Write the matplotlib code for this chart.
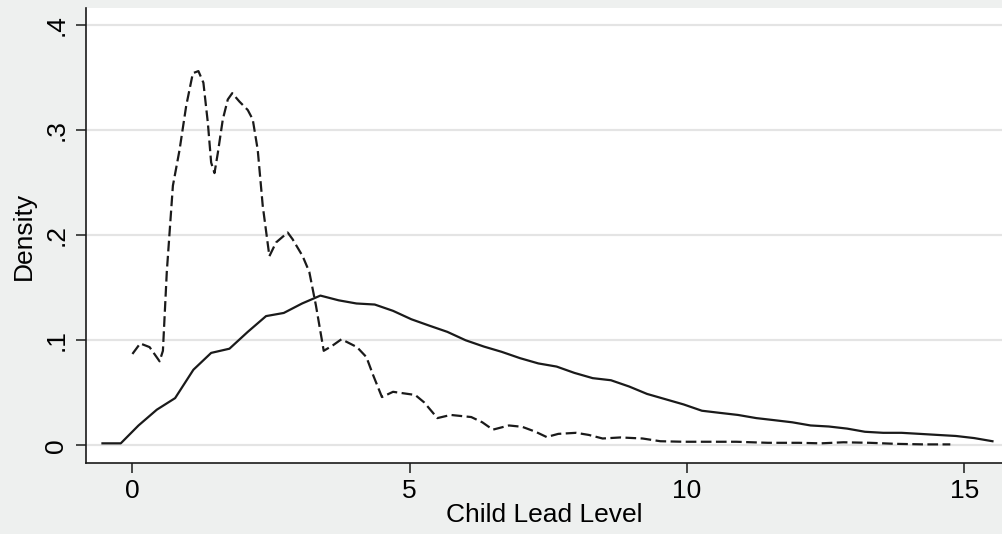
import matplotlib
matplotlib.use("Agg")
import matplotlib.pyplot as plt

# solid line (kernel density, evaluated on a grid)
solid_x = [-0.54, -0.21, 0.11, 0.44, 0.77, 1.10, 1.42, 1.75, 2.08, 2.41,
           2.73, 3.06, 3.39, 3.72, 4.04, 4.37, 4.70, 5.03, 5.35, 5.68,
           6.01, 6.34, 6.66, 6.99, 7.32, 7.65, 7.97, 8.30, 8.63, 8.96,
           9.28, 9.61, 9.94, 10.27, 10.59, 10.92, 11.25, 11.58, 11.90, 12.23,
           12.56, 12.89, 13.21, 13.54, 13.87, 14.20, 14.52, 14.85, 15.18, 15.51]
solid_y = [0.002, 0.002, 0.019, 0.034, 0.045, 0.072, 0.088, 0.092, 0.108, 0.123,
           0.126, 0.135, 0.1425, 0.138, 0.135, 0.134, 0.128, 0.120, 0.114, 0.108,
           0.100, 0.094, 0.089, 0.083, 0.078, 0.075, 0.069, 0.064, 0.062, 0.056,
           0.049, 0.044, 0.039, 0.033, 0.031, 0.029, 0.026, 0.024, 0.022, 0.019,
           0.018, 0.016, 0.013, 0.012, 0.012, 0.011, 0.010, 0.009, 0.007, 0.004]

# dashed line
dash_x = [0.00, 0.14, 0.31, 0.49, 0.55, 0.62, 0.73, 0.85, 0.97, 1.09,
          1.19, 1.28, 1.36, 1.42, 1.48, 1.54, 1.63, 1.72, 1.80, 1.93,
          2.08, 2.17, 2.26, 2.35, 2.47, 2.59, 2.80, 2.89, 3.07, 3.19,
          3.31, 3.45, 3.61, 3.77, 4.05, 4.22, 4.34, 4.50, 4.70, 5.10,
          5.26, 5.50, 5.74, 6.11, 6.31, 6.50, 6.79, 7.03, 7.27, 7.47,
          7.68, 8.00, 8.23, 8.48, 8.80, 9.20, 9.52, 9.93, 10.41, 10.89,
          11.46, 12.02, 12.42, 12.82, 13.30, 13.78, 14.27, 14.75]
dash_y = [0.087, 0.097, 0.0935, 0.080, 0.090, 0.165, 0.247, 0.281, 0.323, 0.354,
          0.356, 0.345, 0.307, 0.269, 0.259, 0.278, 0.310, 0.329, 0.335, 0.327,
          0.319, 0.310, 0.281, 0.228, 0.180, 0.193, 0.2025, 0.196, 0.180, 0.165,
          0.133, 0.090, 0.095, 0.101, 0.0935, 0.084, 0.067, 0.046, 0.051, 0.048,
          0.041, 0.026, 0.029, 0.027, 0.022, 0.015, 0.019, 0.0177, 0.013, 0.008,
          0.011, 0.012, 0.010, 0.0066, 0.0076, 0.0066, 0.004, 0.0035, 0.0035, 0.0035,
          0.0025, 0.0025, 0.002, 0.003, 0.0025, 0.0015, 0.001, 0.001]

x_ticks = [0, 5, 10, 15]
y_ticks = [0, 0.1, 0.2, 0.3, 0.4]
y_tick_labels = ["0", ".1", ".2", ".3", ".4"]

plt.rcParams['font.family'] = ['Liberation Sans', 'DejaVu Sans']

bg = "#eef0ef"
fig = plt.figure(figsize=(10.03, 5.34), dpi=100, facecolor=bg)
ax = fig.add_axes([86 / 1003, 71 / 534, 917 / 1003, 455 / 534])
ax.set_facecolor("white")

ax.plot(solid_x, solid_y, color="#1a1a1a", linewidth=1.6)
ax.plot(dash_x, dash_y, color="#1a1a1a", linewidth=1.6, dashes=(4.8, 2))

ax.set_xlim(-0.837, 15.70)
ax.set_ylim(-0.0167, 0.416)
ax.set_xticks(x_ticks)
ax.set_yticks(y_ticks)
ax.set_yticklabels(y_tick_labels, rotation=90, va="center")

ax.grid(axis="y", color="#e4e4e4", linewidth=1.6)
ax.set_axisbelow(True)
for s in ["top", "right"]:
    ax.spines[s].set_visible(False)
for s in ["left", "bottom"]:
    ax.spines[s].set_color("#1a1a1a")
    ax.spines[s].set_linewidth(1.2)

ax.tick_params(direction="out", length=7.2, width=1.1, color="#1a1a1a",
               labelsize=19)
ax.tick_params(axis="x", pad=4)
ax.tick_params(axis="y", pad=5.5)
ax.set_xlabel("Child Lead Level", fontsize=19, labelpad=0)
ax.set_ylabel("Density", fontsize=19, labelpad=6)

fig.savefig("out.png", dpi=100, facecolor=bg)
